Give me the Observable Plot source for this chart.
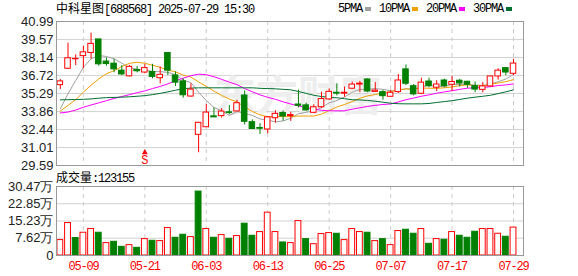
<!DOCTYPE html>
<html>
<head>
<meta charset="utf-8">
<script src="https://cdn.jsdelivr.net/npm/d3@7"></script>
<script src="https://cdn.jsdelivr.net/npm/@observablehq/plot@0.6"></script>
<style>
  body { margin: 0; background: #fff; }
  #wrap { position: relative; width: 578px; height: 276px; overflow: hidden; background: #fff; }
  .mono { font-family: "Liberation Mono", monospace; letter-spacing: -1.2px; }
  .cjk { font-family: "Noto Sans CJK SC", sans-serif; }
  #title { position: absolute; left: 56px; top: 1px; font-size: 12px; line-height: 14px; color: #000; white-space: nowrap; }
  #legend { position: absolute; left: 338px; top: 2px; font-size: 12px; line-height: 14px; color: #000; white-space: nowrap; display: flex; align-items: center; }
  #legend .sq { display: inline-block; width: 6px; height: 4px; margin-left: 3px; margin-right: 8px; }
  #vlabel { position: absolute; left: 56px; top: 170px; font-size: 12px; line-height: 14px; color: #000; white-space: nowrap; }
  #price, #vol { position: absolute; left: 0; }
  #price { top: 0; }
  #vol { top: 170px; }
  #vol g[aria-label="x-axis tick label"] text { letter-spacing: -1.2px; }
</style>
</head>
<body>
<div id="wrap">
  <div id="price"></div>
  <div id="vol"></div>
  <div id="title"></div>
  <div id="legend"></div>
  <div id="vlabel"></div>
</div>
<script>
// ---- data ----
const stockName = "中科星图";
const stockCode = "[688568]";
const stamp = "2025-07-29 15:30";
const dates = ["05-06","05-07","05-08","05-09","05-12","05-13","05-14","05-15","05-16","05-19",
  "05-20","05-21","05-22","05-23","05-26","05-27","05-28","05-29","05-30","06-03",
  "06-04","06-05","06-06","06-09","06-10","06-11","06-12","06-13","06-16","06-17",
  "06-18","06-19","06-20","06-23","06-24","06-25","06-26","06-27","06-30","07-01",
  "07-02","07-03","07-04","07-07","07-08","07-09","07-10","07-11","07-14","07-15",
  "07-16","07-17","07-18","07-21","07-22","07-23","07-24","07-25","07-28","07-29"];
const labelIdx = [3, 11, 19, 27, 35, 43, 51, 59];
const opens = [35.95,37.25,38.00,38.25,38.50,39.57,37.82,37.65,37.10,36.65,
  37.15,36.95,37.00,36.50,38.50,36.72,36.25,35.05,32.02,32.62,
  33.48,33.50,33.80,33.87,35.13,33.02,32.56,32.44,33.33,33.75,
  33.50,34.42,34.35,33.76,34.20,34.82,35.35,35.28,35.67,36.00,
  36.40,35.42,35.40,35.03,35.40,37.20,35.87,35.27,36.24,35.75,
  36.32,35.98,36.30,36.22,35.87,35.58,35.85,36.64,37.30,36.85];
const highs = [36.40,39.28,38.35,39.03,40.07,39.57,38.10,38.00,37.50,37.50,
  37.42,37.58,37.60,37.40,38.50,37.00,36.45,36.06,33.00,34.42,
  34.15,34.10,34.34,34.75,35.50,33.20,32.90,33.45,33.92,33.90,
  33.80,35.55,34.52,34.40,35.40,35.65,36.05,35.80,36.20,36.25,
  36.45,36.15,35.52,35.55,36.80,37.55,36.00,36.50,36.50,36.30,
  36.42,36.65,36.40,36.25,36.20,36.15,36.66,37.25,37.30,38.00];
const lows = [35.60,37.20,37.50,37.25,38.00,37.45,37.45,36.93,36.70,36.60,
  36.92,36.85,36.45,36.05,36.72,35.85,34.92,35.00,30.60,32.60,
  33.38,33.35,33.60,33.85,32.80,32.45,32.05,32.10,32.95,33.10,
  33.08,34.15,33.90,33.70,34.10,34.75,35.10,35.00,35.60,35.35,
  35.35,35.40,34.75,35.00,35.30,35.92,35.10,35.20,35.75,35.45,
  35.75,35.45,35.80,35.70,35.35,35.35,35.80,36.35,36.70,36.70];
const closes = [36.25,38.08,38.03,38.55,39.22,37.60,37.62,37.20,36.80,37.40,
  37.05,37.30,36.60,36.77,37.10,36.15,35.15,35.60,32.97,33.78,
  33.40,33.86,33.75,34.52,33.05,32.48,32.50,33.40,33.68,33.47,
  33.58,34.32,33.95,34.20,34.85,35.42,35.28,35.35,36.00,36.07,
  35.45,35.52,35.08,35.35,36.32,36.06,35.22,36.15,35.87,36.00,
  35.87,36.20,36.08,35.98,35.60,35.85,36.64,37.10,36.95,37.66];
const prevClose = 35.90;
const volumes = [6.80,14.34,7.69,10.05,11.68,10.05,5.47,6.06,3.84,4.58,
  3.40,7.24,6.50,6.36,12.12,7.83,9.16,8.13,28.23,11.68,
  7.83,9.02,7.39,8.57,14.04,8.72,10.35,18.92,10.35,5.76,
  5.47,15.20,7.24,5.00,9.46,9.90,9.60,6.80,11.68,10.35,
  10.05,6.36,7.24,4.58,10.80,11.38,9.60,11.68,5.17,7.24,
  6.95,10.35,8.72,7.83,10.49,11.68,11.68,9.60,8.28,12.32];
const lastVolume = 123155;
const ma5 = [34.08,35.27,36.32,37.37,38.03,38.30,38.22,38.04,37.69,37.32,
  37.21,37.15,37.03,37.02,36.96,36.78,36.35,36.15,35.39,34.73,
  34.18,33.92,33.55,33.86,33.72,33.55,33.27,33.20,33.04,33.12,
  33.33,33.69,33.80,33.91,34.18,34.55,34.73,35.02,35.38,35.62,
  35.63,35.68,35.62,35.49,35.54,35.67,35.61,35.82,35.92,35.86,
  35.82,36.02,36.00,36.03,35.95,35.94,36.03,36.23,36.43,36.80];
const ma10 = [33.90,34.35,34.80,35.40,35.95,36.45,36.85,37.10,37.42,37.68,
  37.76,37.68,37.53,37.36,37.14,37.00,36.75,36.59,36.21,35.85,
  35.48,35.14,34.85,34.63,34.22,33.86,33.60,33.45,33.48,33.45,
  33.46,33.50,33.51,33.50,33.66,33.94,34.22,34.42,34.65,34.91,
  35.10,35.21,35.32,35.44,35.58,35.65,35.64,35.72,35.71,35.70,
  35.74,35.81,35.91,35.98,35.90,35.88,36.02,36.12,36.23,36.39];
const ma20 = [33.75,33.82,33.98,34.20,34.38,34.55,34.72,34.90,35.05,35.20,
  35.35,35.50,35.68,35.85,36.05,36.30,36.50,36.70,36.82,36.78,
  36.62,36.41,36.19,35.99,35.68,35.43,35.18,34.99,34.83,34.63,
  34.46,34.31,34.18,34.05,33.96,33.92,33.92,33.92,34.05,34.16,
  34.27,34.35,34.42,34.46,34.62,34.80,34.93,35.07,35.18,35.31,
  35.42,35.51,35.62,35.71,35.74,35.77,35.83,35.92,35.97,36.05];
const ma30 = [34.79,34.80,34.81,34.83,34.86,34.92,34.96,34.98,35.00,35.03,
  35.07,35.12,35.20,35.30,35.42,35.55,35.67,35.72,35.74,35.74,
  35.74,35.74,35.74,35.74,35.74,35.74,35.70,35.68,35.66,35.62,
  35.58,35.45,35.30,35.15,35.05,34.98,34.95,34.88,34.80,34.78,
  34.74,34.68,34.60,34.52,34.48,34.47,34.47,34.47,34.50,34.58,
  34.65,34.72,34.82,34.92,35.00,35.07,35.15,35.28,35.42,35.58];
const maNames = ["5PMA", "10PMA", "20PMA", "30PMA"];
const maColors = ["#a0a0a0", "#f0a000", "#ff00ff", "#006f30"];
const priceTicks = [40.99, 39.57, 38.14, 36.72, 35.29, 33.86, 32.44, 31.01, 29.59];
const volTicks = [0, 7.62, 15.23, 22.85, 30.47];
const signals = [{i: 11, label: "S"}];
const watermark = ["东方财富"];

// ---- derived tables ----
const RED = "#ff0000", GREEN = "#008000";
const idx = d3.range(dates.length);
const candles = idx.map(i => ({i, o: opens[i], h: highs[i], l: lows[i], c: closes[i]}));
const vols = idx.map(i => ({i, v: volumes[i], up: closes[i] >= (i ? closes[i - 1] : prevClose)}));
const maSeries = [ma5, ma10, ma20, ma30];

const xDomain = [-0.5, 60.3];
const common = {width: 578, marginLeft: 56, marginRight: 55, style: {background: "transparent", overflow: "visible"}};
const tickFont = {fontSize: 13, fill: "#222", fontFamily: "Liberation Sans, Arial, sans-serif"};

const price = Plot.plot({
  ...common,
  height: 170, marginTop: 21, marginBottom: 5,
  x: {domain: xDomain, axis: null, label: null},
  y: {domain: [29.59, 40.99], axis: null, label: null},
  marks: [
    Plot.ruleY(priceTicks, {stroke: "#d2d2d2"}),
    Plot.ruleX(labelIdx, {stroke: "#cccccc", strokeDasharray: "4,4"}),
    Plot.text(watermark, {frameAnchor: "middle", dx: 8, dy: 4, fontSize: 42, fontWeight: "bold", fill: "#eeeeee", fontFamily: "Noto Sans CJK SC"}),
    Plot.axisY(priceTicks, {anchor: "left", label: null, tickSize: 0, tickPadding: 3, tickFormat: d => d.toFixed(2), ...tickFont}),
    ...maSeries.map((s, k) => Plot.line(idx, {x: i => i, y: i => s[i], stroke: maColors[k], strokeWidth: 1})),
    Plot.ruleX(candles, {x: "i", y1: "l", y2: "h", stroke: d => d.c >= d.o ? RED : GREEN, strokeWidth: 1}),
    Plot.rect(candles, {x1: d => d.i - 0.36, x2: d => d.i + 0.36, y1: "o", y2: "c",
      fill: d => d.c >= d.o ? "#fff" : GREEN, stroke: d => d.c >= d.o ? RED : GREEN, strokeWidth: 1}),
    Plot.dot(signals, {x: "i", y: () => 29.59, symbol: "triangle", r: 2.2, fill: RED, stroke: "none", dy: -13}),
    Plot.text(signals, {x: "i", y: () => 29.59, text: "label", dy: -5, fill: RED, fontSize: 12, fontFamily: "Liberation Mono"}),
    Plot.frame({stroke: "#999"})
  ]
});
document.getElementById("price").append(price);

const vol = Plot.plot({
  ...common,
  height: 106, marginTop: 16, marginBottom: 21,
  x: {domain: xDomain, axis: null, label: null},
  y: {domain: [0, 30.47], axis: null, label: null},
  marks: [
    Plot.ruleY(volTicks, {stroke: "#d2d2d2"}),
    Plot.ruleX(labelIdx, {stroke: "#cccccc", strokeDasharray: "4,4"}),
    Plot.axisY(volTicks, {anchor: "left", label: null, tickSize: 0, tickPadding: 3, tickFormat: d => d === 0 ? "0" : d.toFixed(2) + "万", ...tickFont}),
    Plot.rect(vols, {x1: d => d.i - 0.38, x2: d => d.i + 0.38, y1: 0, y2: "v",
      fill: d => d.up ? "#fff" : GREEN, stroke: d => d.up ? RED : GREEN, strokeWidth: 1}),
    Plot.axisX(labelIdx, {anchor: "bottom", label: null, tickSize: 0, tickPadding: 6, tickFormat: i => dates[i],
      fill: RED, fontSize: 12, fontFamily: "Liberation Mono, monospace"}),
    Plot.frame({stroke: "#999"})
  ]
});
document.getElementById("vol").append(vol);

// ---- header texts ----
document.getElementById("title").innerHTML =
  `<span class="cjk">${stockName}</span><span class="mono">${stockCode} ${stamp}</span>`;
document.getElementById("legend").innerHTML = maNames.map((n, k) =>
  `<span class="mono">${n}</span><span class="sq" style="background:${maColors[k]}"></span>`).join("");
document.getElementById("vlabel").innerHTML =
  `<span class="cjk">成交量</span><span class="mono">:${lastVolume}</span>`;
</script>
</body>
</html>
